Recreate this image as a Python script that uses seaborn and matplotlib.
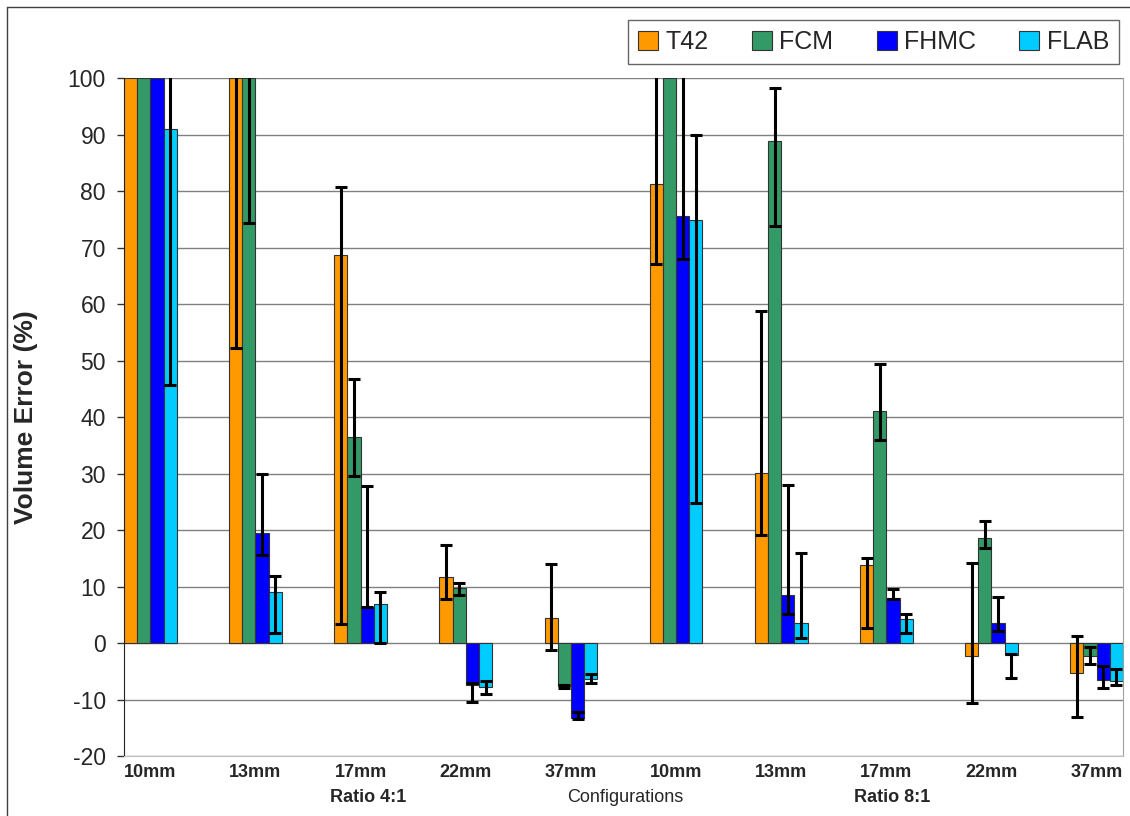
import numpy as np
import pandas as pd
import seaborn as sns
import matplotlib.pyplot as plt
from matplotlib.patches import Patch
from matplotlib.lines import Line2D

# data (values above 100 are clipped by the axis)
sizes = ["10mm", "13mm", "17mm", "22mm", "37mm", "10mm", "13mm", "17mm", "22mm", "37mm"]
configs = ["4:1 10mm", "4:1 13mm", "4:1 17mm", "4:1 22mm", "4:1 37mm",
           "8:1 10mm", "8:1 13mm", "8:1 17mm", "8:1 22mm", "8:1 37mm"]
methods = ["T42", "FCM", "FHMC", "FLAB"]
colors = {"T42": "#FF9900", "FCM": "#339966", "FHMC": "#0000FF", "FLAB": "#00CCFF"}

nan = np.nan
t42 = [100, 100, 68.6, 11.7, 4.4, 81.3, 30.1, 13.8, -2.3, -5.3]
t42_lo = [nan, 52.2, 3.4, 7.8, -1.2, 67.0, 19.1, 2.6, -10.6, -13.1]
t42_hi = [nan, 110, 80.7, 17.4, 14.0, 110, 58.7, 15.0, 14.1, 1.2]
fcm = [100, 100, 36.4, 9.8, -7.6, 100, 88.8, 41.0, 18.5, -2.3]
fcm_lo = [nan, 74.4, 29.5, 8.5, -7.9, nan, 73.8, 35.9, 16.8, -3.7]
fcm_hi = [nan, 110, 46.8, 10.7, -7.5, nan, 98.2, 49.3, 21.6, -0.7]
fhmc = [100, 19.5, 6.3, -7.5, -13.3, 75.6, 8.5, 7.9, 3.6, -6.5]
fhmc_lo = [nan, 15.5, 6.3, -10.4, -13.4, 68.0, 5.1, 7.8, 2.2, -7.9]
fhmc_hi = [nan, 29.9, 27.8, -7.1, -12.2, 110, 27.9, 9.6, 8.1, -4.1]
flab = [91.0, 9.0, 6.9, -7.75, -6.4, 74.8, 3.6, 4.2, -2.1, -6.7]
flab_lo = [45.7, 1.8, 0.0, -9.1, -7.0, 24.8, 0.9, 1.7, -6.2, -7.5]
flab_hi = [110, 11.8, 9.0, -6.7, -5.5, 89.9, 15.9, 5.1, -2.0, -4.6]

vals = {"T42": t42, "FCM": fcm, "FHMC": fhmc, "FLAB": flab}
lows = {"T42": t42_lo, "FCM": fcm_lo, "FHMC": fhmc_lo, "FLAB": flab_lo}
highs = {"T42": t42_hi, "FCM": fcm_hi, "FHMC": fhmc_hi, "FLAB": flab_hi}

rows = []
for m in methods:
    for c, v in zip(configs, vals[m]):
        rows.append({"config": c, "method": m, "value": v})
df = pd.DataFrame(rows)

sns.set_style("white")
plt.rcParams["font.family"] = ["Liberation Sans", "DejaVu Sans"]
plt.rcParams["axes.unicode_minus"] = False

fig = plt.figure(figsize=(11.3, 8.16), dpi=100)
ax = fig.add_axes([0.1097, 0.0735, 0.8841, 0.8309])

sns.barplot(data=df, x="config", y="value", hue="method", order=configs,
            hue_order=methods, palette=colors, width=0.502, gap=0,
            errorbar=None, saturation=1, edgecolor="#333333", linewidth=0.8,
            legend=False, ax=ax, zorder=2)

# error bars (asymmetric) on top of each bar
for m, cont in zip(methods, ax.containers):
    xs = np.array([p.get_x() + p.get_width() / 2 for p in cont.patches])
    v = np.array(vals[m])
    lo = np.array(lows[m])
    hi = np.array(highs[m])
    ok = ~np.isnan(lo)
    ax.errorbar(xs[ok], v[ok], yerr=[v[ok] - lo[ok], hi[ok] - v[ok]],
                fmt="none", ecolor="black", elinewidth=2.2, capsize=4.5,
                capthick=2.2, zorder=3)

ax.set_ylim(-20, 100)
ax.set_xlim(-0.251, 9.251)
ax.set_yticks(np.arange(-20, 101, 10))
ax.yaxis.grid(True, color="#808080", lw=1)
ax.set_axisbelow(True)

ax.set_xticks(range(len(configs)))
ax.set_xticklabels(sizes, fontsize=13, fontweight="bold")
ax.tick_params(axis="x", length=0, pad=6)
ax.tick_params(axis="y", direction="out", length=5, width=1, color="#333333",
               labelsize=16.5, pad=8, left=True)
ax.set_xlabel("")
ax.set_ylabel("Volume Error (%)", fontsize=19, fontweight="bold")
ax.yaxis.set_label_coords(-0.086, 0.5)

ax.spines["top"].set_visible(False)
ax.spines["left"].set_color("#222222")
ax.spines["right"].set_color("#a0a0a0")
ax.spines["bottom"].set_color("#c0c0c0")

fig.text(368 / 1130, 1 - 798 / 816, "Ratio 4:1", ha="center", va="center",
         fontsize=13, fontweight="bold")
fig.text(625 / 1130, 1 - 798 / 816, "Configurations", ha="center", va="center",
         fontsize=13)
fig.text(892 / 1130, 1 - 798 / 816, "Ratio 8:1", ha="center", va="center",
         fontsize=13, fontweight="bold")

handles = [Patch(facecolor=colors[m], edgecolor="#333333", lw=0.8) for m in methods]
leg = fig.legend(handles, methods, ncol=4, loc="center", mode="expand",
                 bbox_to_anchor=(0.5558, 0.9167, 0.4345, 0.0625),
                 bbox_transform=fig.transFigure, fontsize=18, frameon=True,
                 fancybox=False, handlelength=0.8, handleheight=0.8,
                 handletextpad=0.3, borderaxespad=0)
leg.get_frame().set_edgecolor("#404040")
leg.get_frame().set_linewidth(1)

# outer chart border (left and top edges visible)
fig.add_artist(Line2D([0.006, 0.006], [0, 0.992], transform=fig.transFigure,
                      color="#404040", lw=1))
fig.add_artist(Line2D([0.006, 1], [0.992, 0.992], transform=fig.transFigure,
                      color="#404040", lw=1))

fig.savefig("out.png", dpi=100)
